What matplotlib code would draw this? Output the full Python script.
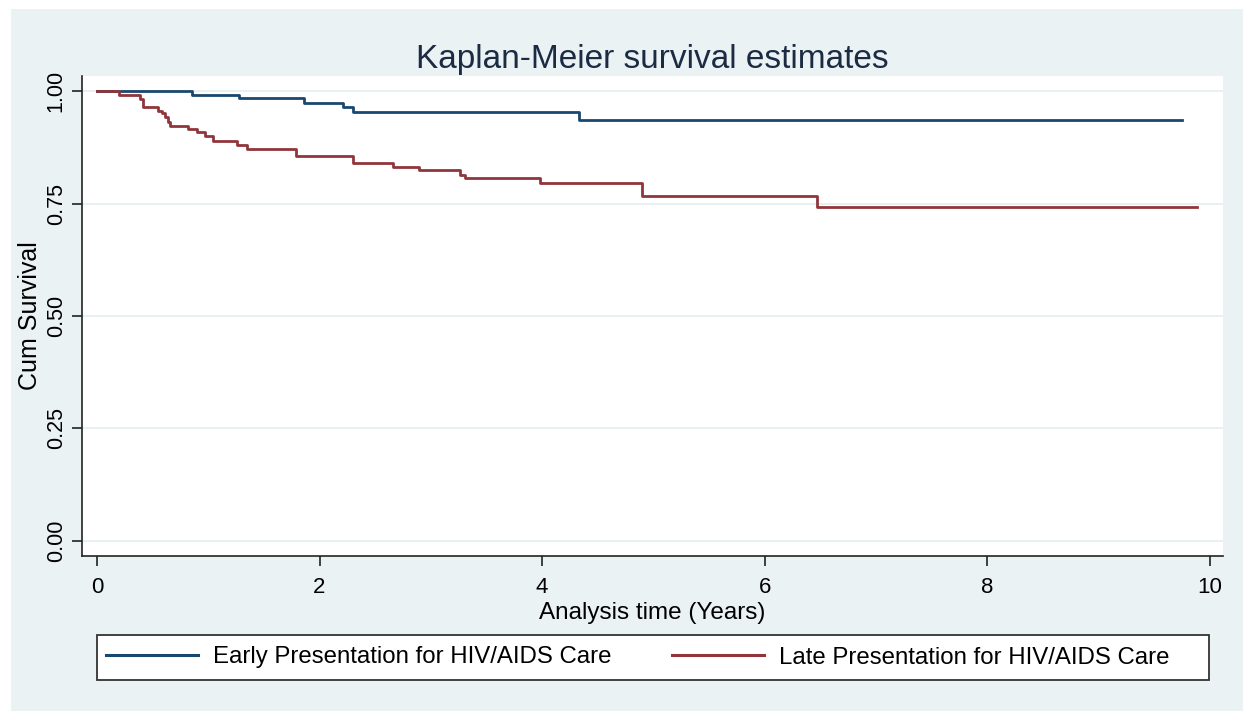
import matplotlib
matplotlib.use("Agg")
import matplotlib.pyplot as plt
from matplotlib.patches import Rectangle
from matplotlib.lines import Line2D

# ---- data ----
early_label = "Early Presentation for HIV/AIDS Care"
late_label = "Late Presentation for HIV/AIDS Care"
early_t = [0, 0.85, 1.28, 1.86, 2.21, 2.30, 4.33, 9.75]
early_s = [1.0, 0.992, 0.984, 0.974, 0.965, 0.954, 0.937, 0.937]
late_t = [0, 0.20, 0.39, 0.41, 0.55, 0.58, 0.61, 0.64, 0.66, 0.82, 0.90, 0.97,
          1.04, 1.26, 1.35, 1.79, 2.30, 2.66, 2.89, 3.26, 3.31, 3.98, 4.90,
          6.47, 9.89]
late_s = [1.0, 0.992, 0.983, 0.965, 0.957, 0.952, 0.943, 0.931, 0.923, 0.916,
          0.909, 0.900, 0.889, 0.881, 0.871, 0.857, 0.840, 0.831, 0.824, 0.813,
          0.806, 0.795, 0.768, 0.743, 0.743]
x_ticks = [0, 2, 4, 6, 8, 10]
y_ticks = [0.00, 0.25, 0.50, 0.75, 1.00]
y_tick_labels = ["0.00", "0.25", "0.50", "0.75", "1.00"]

plt.rcParams['font.family'] = ['Liberation Sans', 'DejaVu Sans']

W, H = 1243, 711
fig = plt.figure(figsize=(W / 100, H / 100), dpi=100, facecolor="white")

bg = "#eaf2f3"
fig.patches.append(Rectangle((11 / W, 0), 1 - 11 / W, 1 - 9 / H,
                             transform=fig.transFigure, facecolor=bg,
                             edgecolor="none", zorder=-10))

blue = "#1a476f"
red = "#90353b"

ax = fig.add_axes([82 / W, (H - 556) / H, (1223 - 82) / W, (556 - 76) / H])
ax.set_zorder(2)
ax.set_facecolor("white")
ax.step(early_t, early_s, where="post", color=blue, lw=2.0, zorder=3)
ax.step(late_t, late_s, where="post", color=red, lw=2.0, zorder=3)

ax.set_xlim(-0.135, 10.12)
ax.set_ylim(-0.034, 1.034)
ax.set_xticks(x_ticks)
ax.set_yticks(y_ticks)
ax.set_yticklabels(y_tick_labels, rotation=90, va="center")
for s in ["top", "right"]:
    ax.spines[s].set_visible(False)
for s in ["left", "bottom"]:
    ax.spines[s].set_color("#222222")
    ax.spines[s].set_linewidth(1.2)
ax.tick_params(axis="x", direction="out", length=7, width=1.2, color="#222222",
               labelsize=16, pad=8)
ax.tick_params(axis="y", direction="out", length=7, width=1.2, color="#222222",
               labelsize=15.5, pad=4)
ax.grid(axis="y", color="#e4eef0", lw=1.2, zorder=0)
ax.set_axisbelow(True)

ax.set_title("Kaplan-Meier survival estimates", fontsize=24, color="#1c2b44",
             pad=6)
ax.set_xlabel("Analysis time (Years)", fontsize=17.5, labelpad=3)
ax.set_ylabel("Cum Survival", fontsize=18, va="center")
ax.yaxis.set_label_coords((30 - 82) / (1223 - 82), 0.5)

# legend frame
fig.patches.append(Rectangle((97 / W, (H - 680) / H), (1209 - 97) / W, 45 / H,
                             transform=fig.transFigure, facecolor="white",
                             edgecolor="#333333", lw=1.3, zorder=1))
handles = [Line2D([], [], color=blue, lw=2.2), Line2D([], [], color=red, lw=2.2)]
leg = fig.legend(handles, [early_label, late_label], loc="center left",
                 bbox_to_anchor=(106 / W, (H - 657.5) / H), ncol=2,
                 frameon=False, fontsize=17.3, handlelength=3.83,
                 handletextpad=0.63, columnspacing=2.5, borderpad=0.0,
                 borderaxespad=0.0)
leg.set_zorder(3)

fig.savefig("out.png", dpi=100, facecolor="white")
